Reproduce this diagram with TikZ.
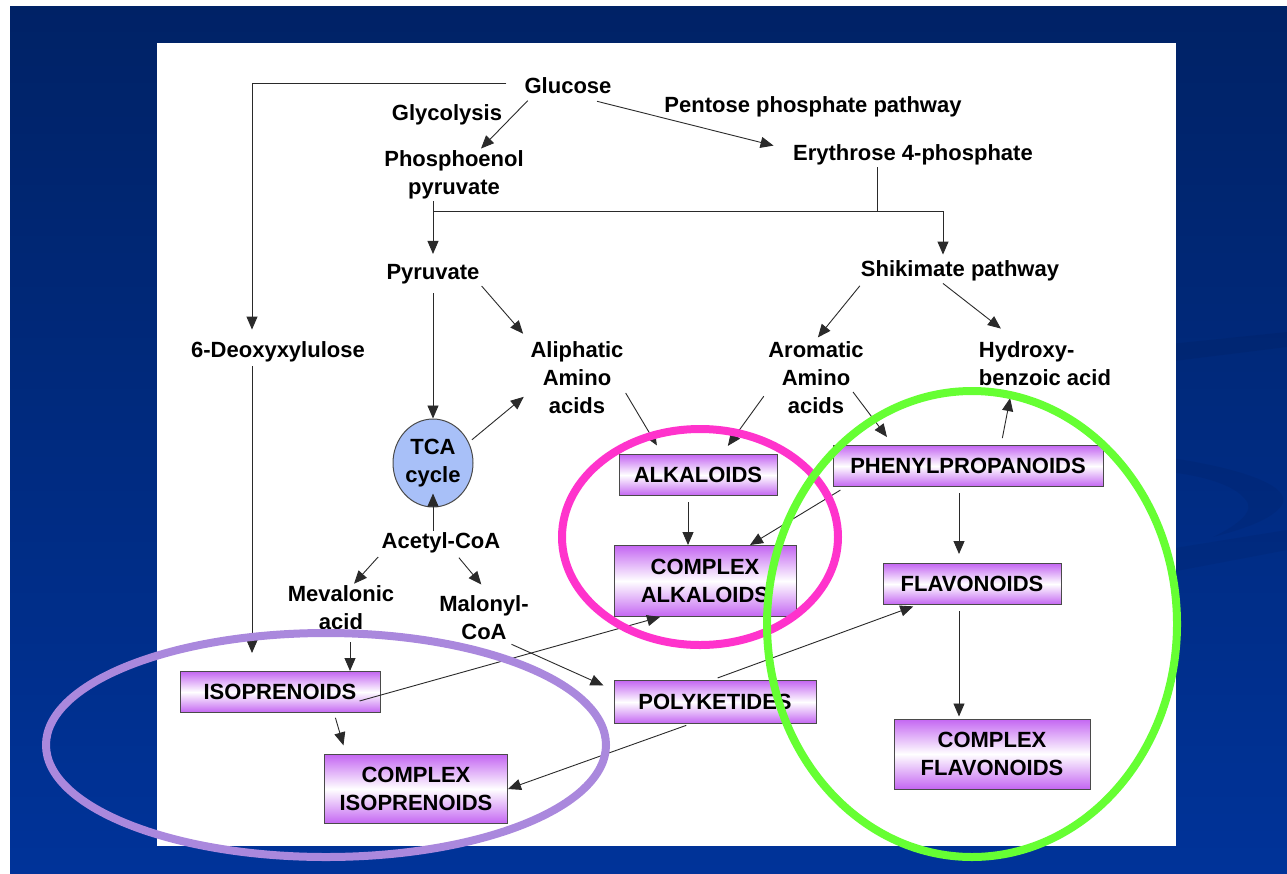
\documentclass[tikz,border=0pt]{standalone}
\usepackage{fontspec}
\setmainfont{Liberation Sans}
\usepackage{xcolor}
\usepackage{tikz}
\usetikzlibrary{arrows.meta,shapes.geometric}

\definecolor{bgtop}{HTML}{002266}
\definecolor{bgbot}{HTML}{003399}
\definecolor{boxviolet}{HTML}{C466F2}
\definecolor{boxedge}{HTML}{4A4A4A}
\definecolor{tcablue}{HTML}{A8C0F8}
\definecolor{ringpink}{HTML}{FF33CC}
\definecolor{ringgreen}{HTML}{66FF33}
\definecolor{ringlilac}{HTML}{AA88DD}
\definecolor{wire}{HTML}{2A2A2A}

\tikzset{
  lbl/.style={font=\bfseries\fontsize{22}{28}\selectfont, inner sep=2pt, align=center},
  prodbox/.style={lbl, draw=boxedge, line width=1pt, top color=boxviolet,
                  bottom color=boxviolet, middle color=white, inner sep=0pt},
  cyc/.style={lbl, ellipse, draw=boxedge, line width=1pt, fill=tcablue,
              minimum width=80pt, minimum height=88pt, inner sep=0pt},
  arr/.style={-{Triangle[length=13pt,width=11pt]}, draw=wire, line width=0.9pt},
  ring/.style={line width=8pt}
}

\begin{document}
\begin{tikzpicture}[x=1pt,y=-1pt]
  \useasboundingbox (0,0) rectangle (1287,873);
  % --- slide background ---
  \fill[white] (0,0) rectangle (1287,873);
  \shade[top color=bgtop,bottom color=bgbot] (10,6) rectangle (1287,873);
  \begin{scope}[fill=black,opacity=0.05]
    \fill (1150,346) -- (1287,332) -- (1287,347) -- (1150,364) -- cycle;
    \fill (1150,455) .. controls (1250,468) and (1292,488) .. (1282,505)
          .. controls (1272,520) and (1240,530) .. (1213,537)
          .. controls (1240,524) and (1256,510) .. (1245,499)
          .. controls (1233,484) and (1200,474) .. (1150,470) -- cycle;
    \fill (1150,552) -- (1287,530) -- (1287,550) -- (1150,576) -- cycle;
  \end{scope}
  \fill[white] (157,43) rectangle (1176,846);

  % --- metabolites ---
  \node[lbl] (glu) at (568,86) {Glucose};
  \node[lbl] (gly) at (447,115) {Glycolysis};
  \node[lbl] (pep) at (454,175) {Phosphoenol\\pyruvate};
  \node[lbl] (ppp) at (813,107) {Pentose phosphate pathway};
  \node[lbl] (ery) at (913,155) {Erythrose 4-phosphate};
  \node[lbl] (shk) at (960,271) {Shikimate pathway};
  \node[lbl] (pyr) at (433,274) {Pyruvate};
  \node[lbl] (deo) at (278,352) {6-Deoxyxylulose};
  \node[lbl] (ali) at (577,378) {Aliphatic\\Amino\\acids};
  \node[lbl] (aro) at (816,378) {Aromatic\\Amino\\acids};
  \node[lbl,align=left] (hyd) at (1045,364) {Hydroxy-\\benzoic acid};
  \node[cyc] (tca) at (433,463) {TCA\\cycle};
  \node[lbl] (ace) at (441,543) {Acetyl-CoA};
  \node[lbl] (mev) at (341,608) {Mevalonic\\acid};
  \node[lbl] (mal) at (484,618) {Malonyl-\\CoA};

  % --- natural product classes ---
  \node[prodbox,minimum width=158pt,minimum height=41pt] (alk) at (698,475) {ALKALOIDS};
  \node[prodbox,minimum width=182pt,minimum height=71pt] (calk) at (705,581) {COMPLEX\\ALKALOIDS};
  \node[prodbox,minimum width=270pt,minimum height=41pt] (phe) at (968,466) {PHENYLPROPANOIDS};
  \node[prodbox,minimum width=178pt,minimum height=41pt] (fla) at (972,584) {FLAVONOIDS};
  \node[prodbox,minimum width=196pt,minimum height=70pt] (cfla) at (992,754) {COMPLEX\\FLAVONOIDS};
  \node[prodbox,minimum width=200pt,minimum height=41pt] (iso) at (280,692) {ISOPRENOIDS};
  \node[prodbox,minimum width=183pt,minimum height=69pt] (ciso) at (416,789) {COMPLEX\\ISOPRENOIDS};
  \node[prodbox,minimum width=202pt,minimum height=43pt] (pol) at (715,702) {POLYKETIDES};

  % --- upper pathway ---
  \coordinate (fork) at (877,211);
  \draw[arr,shorten <=16pt,shorten >=10pt] ([yshift=3pt]glu.west) -| ([xshift=-26pt]deo.north);
  \draw[arr,shorten <=6pt] ([xshift=-36pt]glu.south) -- ([xshift=27pt]pep.north);
  \draw[arr,shorten >=18pt] ([xshift=29pt,yshift=-5pt]glu.south) -- ([yshift=5pt]ery.west);
  \draw[arr,shorten >=8pt] (pep.south -| pyr) -- (pyr.north);
  \draw[wire,line width=0.9pt] ([xshift=-36pt]ery.south) -- (fork);
  \draw[arr,shorten >=4pt] (fork -| pyr) -| ([xshift=-17pt]shk.north);
  \draw[arr,shorten <=7pt] (pyr.south) -- (tca.north);
  \draw[arr,shorten >=8pt] (pyr.south east) -- (ali.north west);
  \draw[arr,shorten <=4pt,shorten >=6pt] (tca.30) -- ([yshift=-15pt]ali.west);
  \draw[arr,shorten >=-14pt] (ace.north -| tca) -- (tca.south);
  \draw[arr,shorten <=2pt] (ace.south west) -- ([xshift=13pt]mev.north);
  \draw[arr,shorten <=3pt,shorten >=12pt] ([xshift=16pt]ace.south) -- ([xshift=5pt]mal.north);
  \draw[arr,shorten <=3pt,shorten >=3pt] ([xshift=3pt]shk.south west) -- (aro.north);
  \draw[arr,shorten >=10pt] ([xshift=-17pt]shk.south) -- ([xshift=32pt,yshift=5pt]hyd.north west);

  % --- lower pathway ---
  \draw[arr,shorten <=2pt,shorten >=18pt] ([xshift=-26pt]deo.south) -- ([xshift=-26pt]deo.south |- iso.north);
  \draw[arr,shorten <=10pt] ([xshift=9pt]mev.south) -- ([xshift=9pt]mev.south |- iso.north);
  \draw[arr,shorten <=5pt,shorten >=9pt] ([xshift=54pt]iso.south) -- ([xshift=-70pt]ciso.north);
  \draw[arr] ([xshift=-21pt,yshift=-9pt]iso.east) -- ([xshift=-45pt]calk.south);
  \draw[arr,shorten <=5pt,shorten >=11pt] ([xshift=23pt]mal.south) -- ([yshift=12pt]pol.west);
  \draw[arr,shorten <=4pt] ([xshift=-25pt]pol.south) -- (ciso.east);
  \draw[arr,shorten <=6pt,shorten >=4pt] ([xshift=-3pt]pol.north) -- ([xshift=-55pt]fla.south);
  \draw[arr,shorten >=10pt] ([yshift=-15pt]ali.east) -- ([xshift=-36pt]alk.north);
  \draw[arr,shorten <=4pt,shorten >=10pt] ([yshift=-15pt]aro.west) -- ([xshift=24pt]alk.north);
  \draw[arr,shorten >=10pt] ([xshift=37pt,yshift=-14pt]aro.center) -- ([xshift=-75pt]phe.north);
  \draw[arr,shorten <=7pt,shorten >=10pt] ([xshift=33pt]phe.north) -- ([xshift=-33pt]hyd.south);
  \draw[arr,shorten <=6pt] ([xshift=13pt]phe.south west) -- ([xshift=45pt]calk.north);
  \draw[arr,shorten <=6pt] ([xshift=-10pt]alk.south) -- ([xshift=-10pt]alk.south |- calk.north);
  \draw[arr,shorten <=6pt,shorten >=9pt] ([xshift=-9pt]phe.south) -- ([xshift=-9pt]phe.south |- fla.north);
  \draw[arr,shorten <=6pt,shorten >=2pt] ([xshift=-13pt]fla.south) -- ([xshift=-13pt]fla.south |- cfla.north);

  % --- groupings ---
  \draw[ring,ringlilac] (326,745) ellipse [x radius=280,y radius=112];
  \draw[ring,ringpink] (700,537) ellipse [x radius=138,y radius=108];
  \draw[ring,ringgreen] (972,624) ellipse [x radius=205,y radius=233];
\end{tikzpicture}
\end{document}
